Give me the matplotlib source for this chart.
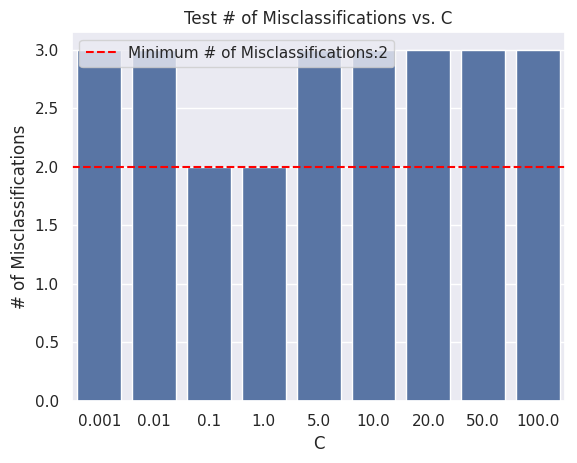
import matplotlib
matplotlib.use("Agg")
import matplotlib.pyplot as plt
import seaborn as sns
import pandas as pd

c_values = ["0.001", "0.01", "0.1", "1.0", "5.0", "10.0", "20.0", "50.0", "100.0"]
misclass = [3, 3, 2, 2, 3, 3, 3, 3, 3]
min_misclass = min(misclass)

sns.set_theme()
df = pd.DataFrame({"C": c_values, "Misclassifications": misclass})

fig = plt.figure(figsize=(5.77, 4.63), dpi=100)
ax = fig.add_subplot(111)
fig.subplots_adjust(left=0.1245, right=0.980, top=0.931, bottom=0.134)

sns.barplot(data=df, x="C", y="Misclassifications", color="#4c72b0", ax=ax)
ax.axhline(min_misclass, color="red", linestyle="--",
           label="Minimum # of Misclassifications:" + str(min_misclass))
ax.set_title("Test # of Misclassifications vs. C")
ax.set_xlabel("C")
ax.set_ylabel("# of Misclassifications")
ax.legend(loc="upper left")

fig.savefig("out.png", dpi=100)
